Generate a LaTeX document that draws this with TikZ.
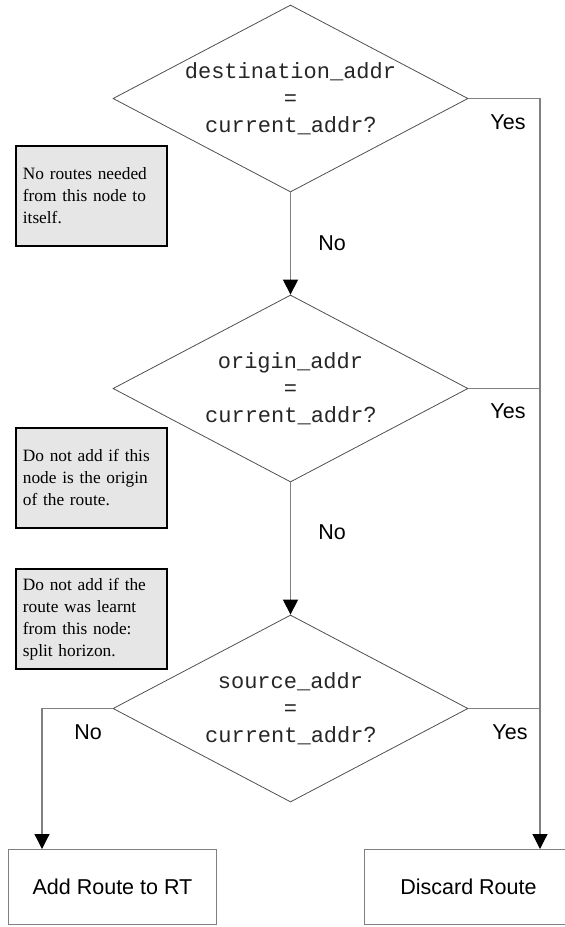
\documentclass[tikz,border=0pt]{standalone}
\usepackage{fontspec}
\setmainfont{Liberation Serif}
\newfontfamily\codefont{Liberation Mono}
\newfontfamily\labelfont{Liberation Sans}
\usetikzlibrary{shapes.geometric,arrows.meta}

\definecolor{edgegray}{HTML}{505050}
\definecolor{linkgray}{HTML}{808080}
\definecolor{notefill}{HTML}{E6E6E6}

\tikzset{
  decision/.style={diamond, draw=edgegray, line width=0.8pt,
    minimum width=355pt, minimum height=187pt, inner sep=0pt},
  condtext/.style={align=center, text=black!85,
    font=\codefont\fontsize{22}{27}\selectfont},
  note/.style={draw=black, line width=1.8pt, fill=notefill,
    anchor=north west, text width=137pt, inner xsep=7pt,
    minimum height=100pt, align=left,
    font=\fontsize{17.3}{22}\selectfont},
  action/.style={draw=linkgray, line width=1pt, anchor=north west,
    minimum width=208pt, minimum height=75pt,
    font=\labelfont\fontsize{21.5}{26}\selectfont},
  tag/.style={font=\labelfont\fontsize{21.5}{26}\selectfont},
  link/.style={draw=linkgray, line width=1.2pt},
  arrow/.style={link, -{Triangle[length=15pt,width=15pt,color=black]}}
}

\begin{document}
\begin{tikzpicture}[x=1pt,y=-1pt]
\useasboundingbox (0,0) rectangle (565,927);

% decisions
\node[decision] (d1) at (290.5,98.5) {};
\node[condtext] (t1) at (d1) {destination\_addr\\=\\current\_addr{\labelfont ?}};
\node[decision] (d2) at (290.5,388.5) {};
\node[condtext] (t2) at (d2) {origin\_addr\\=\\current\_addr{\labelfont ?}};
\node[decision] (d3) at (290.5,708.5) {};
\node[condtext] (t3) at (d3) {source\_addr\\=\\current\_addr{\labelfont ?}};

% side notes
\node[note] (n1) at (15,145) {No routes needed\\from this node to\\itself.};
\node[note] (n2) at (15,427) {Do not add if this\\node is the origin\\of the route.};
\node[note] (n3) at (15,568) {Do not add if the\\route was learnt\\from this node:\\split horizon.};

% outcomes
\node[action] (add) at (8,849) {Add Route to RT};
\node[action] (drop) at (364,849) {Discard Route};

% connectors
\coordinate (rj) at (540,98.5);
\coordinate (lj) at (42,708.5);
\draw[arrow] (d1.south) -- (d2.north);
\draw[arrow] (d2.south) -- (d3.north);
\draw[arrow] (d1.east) -- (rj) -- (rj |- drop.north);
\draw[link] (d2.east) -- (d2.east -| rj);
\draw[link] (d3.east) -- (d3.east -| rj);
\draw[arrow] (d3.west) -- (lj) -- (lj |- add.north);

% branch labels
\node[tag] (y1) at (508,122) {Yes};
\node[tag] (y2) at (508,411) {Yes};
\node[tag] (y3) at (510,732) {Yes};
\node[tag] (no1) at (332,243) {No};
\node[tag] (no2) at (332,532) {No};
\node[tag] (no3) at (88,732) {No};
\end{tikzpicture}
\end{document}
